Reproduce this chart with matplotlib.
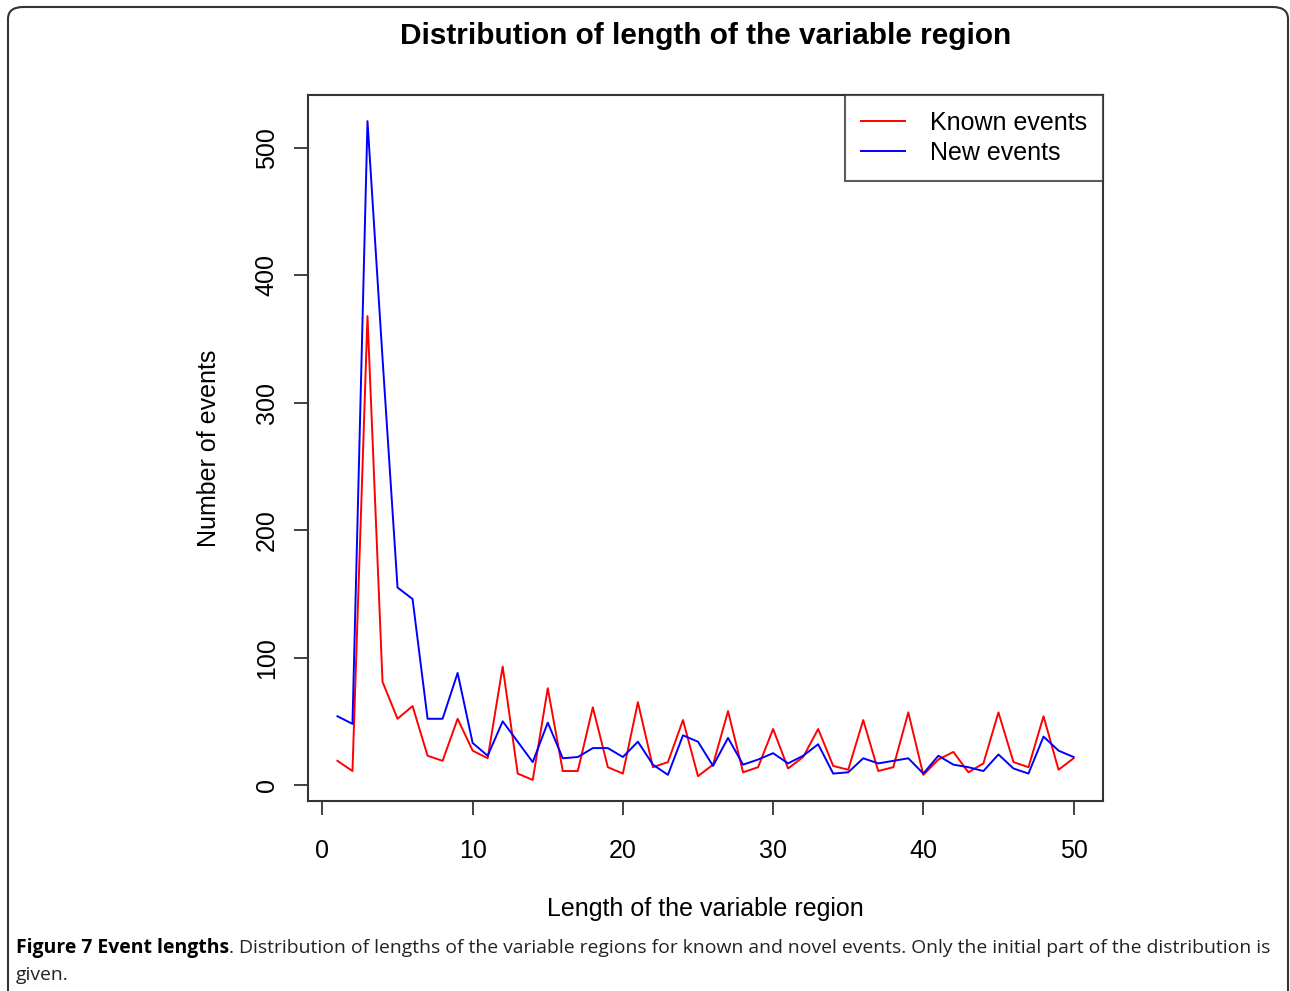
import numpy as np
import matplotlib
matplotlib.use("Agg")
import matplotlib.pyplot as plt
from matplotlib.patches import FancyBboxPatch

# variable-region length 1..50
LENGTHS = list(range(1, 51))
KNOWN = [19, 11, 368, 81, 52, 62, 23, 19, 52, 27,
         21, 93, 9, 4, 76, 11, 11, 61, 14, 9,
         65, 14, 18, 51, 7, 16, 58, 10, 14, 44,
         13, 22, 44, 15, 12, 51, 11, 14, 57, 8,
         20, 26, 10, 17, 57, 18, 14, 54, 12, 21]
NEW = [54, 48, 521, 335, 155, 146, 52, 52, 88, 33,
       23, 50, 34, 18, 49, 21, 22, 29, 29, 22,
       34, 16, 8, 39, 34, 15, 37, 16, 20, 25,
       17, 23, 32, 9, 10, 21, 17, 19, 21, 9,
       23, 16, 14, 11, 24, 13, 9, 38, 27, 22]

TITLE = "Distribution of length of the variable region"
XLABEL = "Length of the variable region"
YLABEL = "Number of events"
CAP_BOLD = "Figure 7 Event lengths"
CAP_TEXT = (". Distribution of lengths of the variable regions for known and novel events. "
            "Only the initial part of the distribution is")
CAP_LINE2 = "given."

W, H = 1290, 991
plt.rcParams["font.family"] = ["Liberation Sans", "DejaVu Sans"]

fig = plt.figure(figsize=(W / 100, H / 100), dpi=100)

# outer journal frame
frame = FancyBboxPatch((8 / W, -0.05), (1288 - 8) / W, (H - 7) / H + 0.05,
                       boxstyle="round,pad=0,rounding_size=0.012",
                       transform=fig.transFigure, fill=False,
                       edgecolor="#333333", linewidth=1.5, clip_on=False)
fig.patches.append(frame)

ax = fig.add_axes([308 / W, 1 - 801 / H, (1103 - 308) / W, (801 - 95) / H])
ax.plot(LENGTHS, KNOWN, color="#ff0000", lw=1.4, label="Known events")
ax.plot(LENGTHS, NEW, color="#0000ff", lw=1.4, label="New events")

# R-style 4% padding, limits from the first plotted series
xr = max(LENGTHS) - min(LENGTHS)
ax.set_xlim(min(LENGTHS) - 0.04 * xr, max(LENGTHS) + 0.04 * xr)
yr = max(NEW) - min(NEW)
ax.set_ylim(min(NEW) - 0.04 * yr, max(NEW) + 0.04 * yr)

ax.set_xticks(range(0, 51, 10))
ax.set_yticks(range(0, 501, 100))
ax.tick_params(axis="both", length=10, width=1.3, color="#333333", labelsize=18)
ax.tick_params(axis="x", pad=17)
ax.tick_params(axis="y", pad=11)
for lab in ax.get_yticklabels():
    lab.set_rotation(90)
    lab.set_va("center")
for s in ax.spines.values():
    s.set_color("#333333")
    s.set_linewidth(1.5)

ax.set_xlabel(XLABEL, fontsize=18, labelpad=25)
ax.set_ylabel(YLABEL, fontsize=18, labelpad=24)

leg = ax.legend(loc="upper right", borderaxespad=0, fancybox=False,
                fontsize=18, handlelength=1.75, handletextpad=1.0,
                labelspacing=0.22, borderpad=0.65)
leg.get_frame().set_edgecolor("#333333")
leg.get_frame().set_linewidth(1.5)

fig.text(705.5 / W, 1 - 36 / H, TITLE, ha="center", va="center",
         fontsize=21.4, fontweight="bold")

# caption
cap_font = ["Open Sans", "DejaVu Sans"]
t1 = fig.text(16 / W, 1 - 948 / H, CAP_BOLD, ha="left", va="center",
              fontsize=13.95, fontweight="bold", family=cap_font)
fig.canvas.draw()
bb = t1.get_window_extent()
fig.text(bb.x1 / W, 1 - 948 / H, CAP_TEXT, ha="left", va="center",
         fontsize=13.95, family=cap_font, color="#222222")
fig.text(16 / W, 1 - 975 / H, CAP_LINE2, ha="left", va="center",
         fontsize=13.95, family=cap_font, color="#222222")

fig.savefig("out.png", dpi=100)
